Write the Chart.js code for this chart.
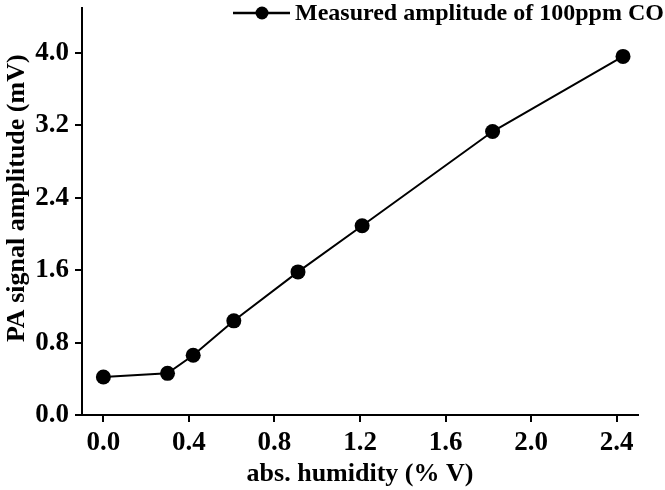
<!DOCTYPE html>
<html>
<head>
<meta charset="utf-8">
<script src="https://cdn.jsdelivr.net/npm/chart.js@4/dist/chart.umd.min.js"></script>
<style>
  html, body { margin: 0; padding: 0; background: #fff; }
  #wrap { width: 665px; height: 490px; }
</style>
</head>
<body>
<div id="wrap"><canvas id="chart" width="665" height="490"></canvas></div>
<script>
// values
var humidity = [0.0, 0.30, 0.42, 0.61, 0.91, 1.21, 1.82, 2.43];
var amplitude = [0.42, 0.46, 0.66, 1.04, 1.58, 2.09, 3.13, 3.96];
var xTicks = [0.0, 0.4, 0.8, 1.2, 1.6, 2.0, 2.4];
var yTicks = [0.0, 0.8, 1.6, 2.4, 3.2, 4.0];
var seriesLabel = 'Measured amplitude of 100ppm CO';

var serif = "'Liberation Serif', 'Times New Roman', serif";

// legend sits on top of the plot, so it is drawn by hand
var legendPlugin = {
    id: 'topLegend',
    afterDraw: function(chart) {
        var ctx = chart.ctx;
        ctx.save();
        ctx.strokeStyle = '#000';
        ctx.lineWidth = 2.5;
        ctx.beginPath();
        ctx.moveTo(233, 13);
        ctx.lineTo(290, 13);
        ctx.stroke();
        ctx.fillStyle = '#000';
        ctx.beginPath();
        ctx.arc(262, 13, 6.5, 0, Math.PI * 2);
        ctx.fill();
        ctx.font = 'bold 24px ' + serif;
        ctx.textBaseline = 'middle';
        ctx.textAlign = 'left';
        ctx.fillText(seriesLabel, 295, 14);
        ctx.restore();
    }
};

// keep the axes where the picture has them
function noPad(scale) {
    scale.paddingTop = 0;
    scale.paddingBottom = 0;
    scale.paddingLeft = 0;
    scale.paddingRight = 0;
}

var ctx = document.getElementById('chart').getContext('2d');
var chart = new Chart(ctx, {
    type: 'line',
    data: {
        datasets: [{
            label: seriesLabel,
            data: humidity.map(function(x, i) { return { x: x, y: amplitude[i] }; }),
            borderColor: '#000',
            backgroundColor: '#000',
            borderWidth: 2,
            pointRadius: 7.5,
            pointHoverRadius: 7.5,
            pointBackgroundColor: '#000',
            pointBorderWidth: 0,
            tension: 0
        }]
    },
    options: {
        responsive: false,
        animation: false,
        layout: { padding: { top: 6, right: 27, left: 0, bottom: 0 } },
        plugins: {
            legend: { display: false },
            tooltip: { enabled: false }
        },
        scales: {
            x: {
                type: 'linear',
                min: -0.1,
                max: 2.5,
                afterBuildTicks: function(scale) {
                    scale.ticks = xTicks.map(function(v) { return { value: v }; });
                },
                afterFit: function(scale) { scale.height = 75; noPad(scale); },
                border: { display: true, color: '#000', width: 2 },
                grid: { display: true, drawOnChartArea: false, drawTicks: true, tickLength: 7, color: '#000', lineWidth: 2 },
                ticks: {
                    color: '#000',
                    padding: 5,
                    maxRotation: 0,
                    font: { family: serif, size: 27, weight: 'bold' },
                    callback: function(v) { return v.toFixed(1); }
                },
                title: {
                    display: true,
                    text: 'abs. humidity (% V)',
                    color: '#000',
                    padding: { top: 0, bottom: 0 },
                    font: { family: serif, size: 26, weight: 'bold' }
                }
            },
            y: {
                min: 0,
                max: 4.5,
                afterBuildTicks: function(scale) {
                    scale.ticks = yTicks.map(function(v) { return { value: v }; });
                },
                afterFit: function(scale) { scale.width = 82; noPad(scale); },
                border: { display: true, color: '#000', width: 2 },
                grid: { display: true, drawOnChartArea: false, drawTicks: true, tickLength: 7, color: '#000', lineWidth: 2 },
                ticks: {
                    color: '#000',
                    padding: 6,
                    font: { family: serif, size: 27, weight: 'bold' },
                    callback: function(v) { return v.toFixed(1); }
                },
                title: {
                    display: true,
                    text: '    PA signal amplitude (mV)',
                    color: '#000',
                    padding: { top: 2, bottom: 0 },
                    font: { family: serif, size: 26, weight: 'bold' }
                }
            }
        }
    },
    plugins: [legendPlugin]
});
</script>
</body>
</html>
